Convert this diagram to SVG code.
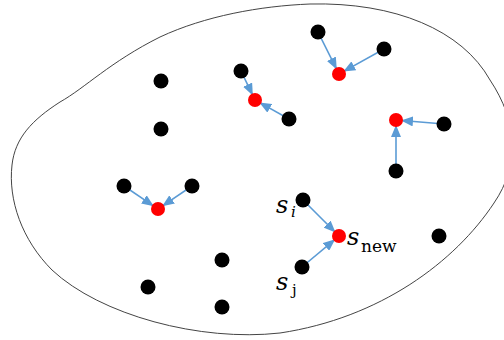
<svg xmlns="http://www.w3.org/2000/svg" width="504" height="340" viewBox="0 0 504 340">
<defs>
<marker id="ah" markerUnits="userSpaceOnUse" markerWidth="12" markerHeight="10" refX="11" refY="5" orient="auto">
<path d="M0,0 L12,5 L0,10 z" fill="#5b9bd5"/>
</marker>
<style>
.b{fill:#000}
.r{fill:#ff0000}
.c{stroke:#5b9bd5;stroke-width:1.6;fill:none;marker-end:url(#ah)}
.m{font-family:"DejaVu Serif",serif;font-style:italic;fill:#000}
.u{font-family:"DejaVu Serif",serif;fill:#000}
</style>
</defs>
<rect width="504" height="340" fill="#fff"/>
<path id="region" d="M310,4 C395,2 462,30 490,80 C518,122 520,165 494,203 C455,262 380,318 280,333 C200,342 100,315 52,270 C22,240 8,200 12,165 C15,138 32,120 60,102 C85,88 110,62 160,37 C205,16 260,6 310,4 Z" fill="none" stroke="#444" stroke-width="1"/>
<g id="connectors">
<line class="c" x1="318" y1="32" x2="336.3" y2="68.6"/>
<line class="c" x1="384" y1="49" x2="344.2" y2="71.1"/>
<line class="c" x1="241" y1="71" x2="252.4" y2="94.6"/>
<line class="c" x1="289" y1="119" x2="260.2" y2="102.9"/>
<line class="c" x1="444" y1="124" x2="402" y2="120.5"/>
<line class="c" x1="396" y1="171" x2="396" y2="126"/>
<line class="c" x1="124" y1="186" x2="153" y2="205.6"/>
<line class="c" x1="192" y1="186" x2="163" y2="205.6"/>
<line class="c" x1="303" y1="200" x2="334.8" y2="231.8"/>
<line class="c" x1="302" y1="267" x2="334.4" y2="239.9"/>
</g>
<g id="r1"><circle class="r" cx="339" cy="74" r="7"/></g>
<g id="r2"><circle class="r" cx="255" cy="100" r="7"/></g>
<g id="r3"><circle class="r" cx="396" cy="120" r="7"/></g>
<g id="r4"><circle class="r" cx="158" cy="209" r="7"/></g>
<g id="snew"><circle class="r" cx="339" cy="236" r="7"/>
<text class="m" x="347" y="245" font-size="24">s</text><text class="u" x="361" y="252" font-size="17">new</text></g>
<g id="b1"><circle class="b" cx="318" cy="32" r="7.5"/></g>
<g id="b2"><circle class="b" cx="384" cy="49" r="7.5"/></g>
<g id="b3"><circle class="b" cx="241" cy="71" r="7.5"/></g>
<g id="b4"><circle class="b" cx="161" cy="81" r="7.5"/></g>
<g id="b5"><circle class="b" cx="161" cy="129" r="7.5"/></g>
<g id="b6"><circle class="b" cx="289" cy="119" r="7.5"/></g>
<g id="b7"><circle class="b" cx="444" cy="124" r="7.5"/></g>
<g id="b8"><circle class="b" cx="396" cy="171" r="7.5"/></g>
<g id="b9"><circle class="b" cx="124" cy="186" r="7.5"/></g>
<g id="b10"><circle class="b" cx="192" cy="186" r="7.5"/></g>
<g id="si"><circle class="b" cx="303" cy="200" r="7.5"/>
<text class="m" x="276" y="213" font-size="24">s</text><text class="m" x="291" y="217" font-size="15">i</text></g>
<g id="b12"><circle class="b" cx="439" cy="236" r="7.5"/></g>
<g id="b13"><circle class="b" cx="222" cy="260" r="7.5"/></g>
<g id="sj"><circle class="b" cx="302" cy="267" r="7.5"/>
<text class="m" x="276" y="290" font-size="24">s</text><text class="u" x="292" y="295" font-size="15">j</text></g>
<g id="b15"><circle class="b" cx="148" cy="287" r="7.5"/></g>
<g id="b16"><circle class="b" cx="222" cy="307" r="7.5"/></g>
</svg>
